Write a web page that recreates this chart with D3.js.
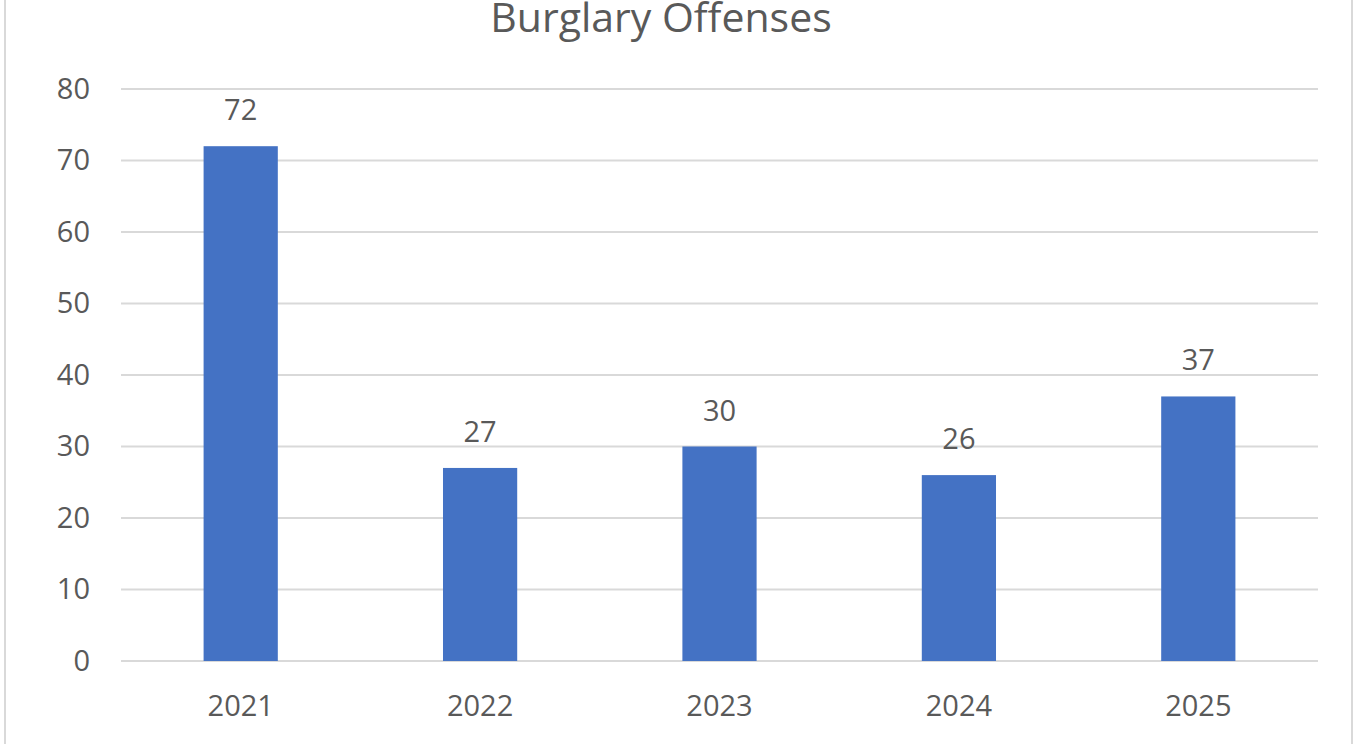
<!DOCTYPE html>
<html>
<head>
<meta charset="utf-8">
<script src="https://cdnjs.cloudflare.com/ajax/libs/d3/7.8.5/d3.min.js"></script>
<style>
  body { margin: 0; background: #fff; }
  text { font-family: "Open Sans", "Liberation Sans", sans-serif; fill: #595959; }
</style>
</head>
<body>
<script>
// chart data
const years = ["2021", "2022", "2023", "2024", "2025"];
const offenses = [72, 27, 30, 26, 37];
const yTicks = [0, 10, 20, 30, 40, 50, 60, 70, 80];
const chartTitle = "Burglary Offenses";

const width = 1356, height = 744;
const margin = {top: 89, right: 38, bottom: 83, left: 121};
const labelSize = 29;

const svg = d3.select("body").append("svg")
  .attr("width", width)
  .attr("height", height);

// outer chart border (only sides show)
svg.append("rect")
  .attr("x", 5).attr("y", -10)
  .attr("width", 1347).attr("height", height + 20)
  .attr("fill", "none")
  .attr("stroke", "#d9d9d9")
  .attr("stroke-width", 2);

const x = d3.scaleBand()
  .domain(years)
  .range([margin.left, width - margin.right])
  .paddingInner(0.69)
  .paddingOuter(0.345);

const y = d3.scaleLinear()
  .domain([0, 80])
  .range([height - margin.bottom, margin.top]);

// gridlines
svg.append("g")
  .selectAll("line")
  .data(yTicks)
  .enter()
  .append("line")
  .attr("x1", margin.left)
  .attr("x2", width - margin.right)
  .attr("y1", d => y(d))
  .attr("y2", d => y(d))
  .attr("stroke", "#d9d9d9")
  .attr("stroke-width", 2);

// y axis labels
const yAxis = d3.axisLeft(y).tickValues(yTicks).tickSize(0).tickPadding(31);
svg.append("g")
  .attr("transform", `translate(${margin.left},0)`)
  .call(yAxis)
  .call(g => g.select(".domain").remove())
  .selectAll("text")
  .attr("font-size", labelSize)
  .attr("fill", "#595959")
  .style("font-family", "'Open Sans', sans-serif");

// x axis labels
const xAxis = d3.axisBottom(x).tickSize(0);
svg.append("g")
  .attr("transform", `translate(0,${height - margin.bottom})`)
  .call(xAxis)
  .call(g => g.select(".domain").remove())
  .selectAll("text")
  .attr("y", 55)
  .attr("dy", 0)
  .attr("font-size", labelSize)
  .attr("fill", "#595959")
  .style("font-family", "'Open Sans', sans-serif");

// bars
svg.append("g")
  .selectAll("rect")
  .data(offenses)
  .enter()
  .append("rect")
  .attr("x", (d, i) => x(years[i]))
  .attr("y", d => y(d))
  .attr("width", x.bandwidth())
  .attr("height", d => y(0) - y(d))
  .attr("fill", "#4472c4");

// value labels
svg.append("g")
  .selectAll("text")
  .data(offenses)
  .enter()
  .append("text")
  .attr("x", (d, i) => x(years[i]) + x.bandwidth() / 2)
  .attr("y", d => y(d) - 26)
  .attr("text-anchor", "middle")
  .attr("font-size", labelSize)
  .text(d => d);

// title
svg.append("text")
  .attr("x", 661)
  .attr("y", 32)
  .attr("text-anchor", "middle")
  .attr("font-size", 41)
  .text(chartTitle);
</script>
</body>
</html>
